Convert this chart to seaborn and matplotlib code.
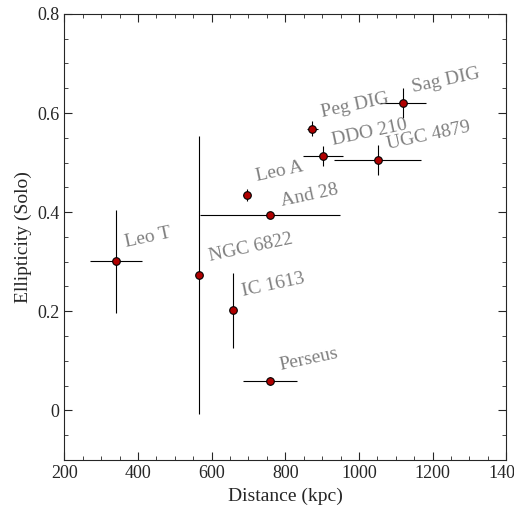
import matplotlib
matplotlib.use("Agg")
import matplotlib.pyplot as plt
import seaborn as sns
import pandas as pd
from matplotlib.ticker import MultipleLocator

names = ["Leo T", "NGC 6822", "Leo A", "And 28", "IC 1613", "Perseus",
         "Peg DIG", "DDO 210", "UGC 4879", "Sag DIG"]
distance = [340, 567, 695, 759, 657, 759, 873, 903, 1051, 1119]
dist_err = [70, 0, 10, 190, 5, 73, 15, 55, 118, 63]
ellip = [0.301, 0.273, 0.434, 0.394, 0.202, 0.059, 0.568, 0.513, 0.505, 0.620]
ellip_err = [0.104, 0.28, 0.012, 0.005, 0.076, 0.008, 0.015, 0.02, 0.03, 0.03]
label_dx = [30, 30, 30, 35, 30, 30, 30, 30, 30, 30]
label_dy = [0.02, 0.02, 0.02, 0.01, 0.02, 0.015, 0.015, 0.015, 0.015, 0.015]

df = pd.DataFrame({"name": names, "d": distance, "de": dist_err, "e": ellip, "ee": ellip_err})

sns.set_style("ticks")
plt.rcParams['font.family'] = ['Liberation Serif', 'DejaVu Serif']
fig, ax = plt.subplots(figsize=(5.14, 5.15), dpi=100)
ax.errorbar(df["d"], df["e"], xerr=df["de"], yerr=df["ee"], fmt="none",
            ecolor="black", elinewidth=0.8, capsize=0, zorder=1)
sns.scatterplot(data=df, x="d", y="e", ax=ax, color="#b00000", edgecolor="black",
                s=30, linewidth=0.8, zorder=3)
for n, x, y, dx, dy in zip(names, distance, ellip, label_dx, label_dy):
    ax.text(x + dx, y + dy, n, color="gray", fontsize=14, rotation=12,
            ha="left", va="bottom", rotation_mode="anchor")

ax.set_xlim(200, 1400)
ax.set_ylim(-0.1, 0.8)
ax.xaxis.set_major_locator(MultipleLocator(200))
ax.xaxis.set_minor_locator(MultipleLocator(50))
ax.yaxis.set_minor_locator(MultipleLocator(0.05))
ax.set_yticks([0, 0.2, 0.4, 0.6, 0.8])
ax.set_yticklabels(["0", "0.2", "0.4", "0.6", "0.8"])
ax.tick_params(which="both", direction="in", top=True, right=True, labelsize=13)
ax.tick_params(which="major", length=6)
ax.tick_params(which="minor", length=3)
ax.set_xlabel("Distance (kpc)", fontsize=14)
ax.set_ylabel("Ellipticity (Solo)", fontsize=14)
plt.subplots_adjust(left=0.125, right=0.985, top=0.973, bottom=0.107)
plt.savefig("out.png")
